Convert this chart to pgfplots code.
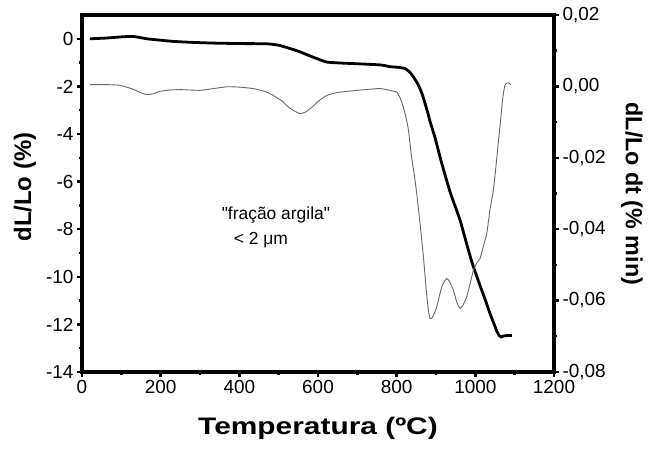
\documentclass[border=0pt]{standalone}
\usepackage{fontspec}
\setmainfont{Liberation Sans}
\newfontfamily\plainfont{Liberation Sans}[Ligatures=TeXOff]
\usepackage{pgfplots}
\pgfplotsset{compat=1.18}

% dilatometry: shrinkage and its rate
\pgfplotstableread{
T dl
20 0
60 0.03
100 0.08
130 0.1
165 0
200 -0.06
232 -0.11
280 -0.15
333 -0.18
400 -0.2
470 -0.21
500 -0.27
521 -0.37
550 -0.52
572 -0.67
600 -0.85
623 -0.98
660 -1.02
715 -1.06
760 -1.1
783 -1.17
805 -1.2
821 -1.25
832 -1.38
842 -1.59
851 -1.82
859 -2.08
866 -2.38
872 -2.71
879 -3.1
885 -3.48
898 -4.18
910 -4.95
923 -5.72
937 -6.5
949 -7.05
961 -7.61
976 -8.5
991 -9.37
1004 -10.0
1016 -10.55
1027 -11.05
1037 -11.53
1048 -12.0
1055 -12.3
1061 -12.48
1066 -12.53
1071 -12.49
1080 -12.47
1093 -12.47
}\dilat

\pgfplotstableread{
T rate
20 0.0005
60 0.0005
97 0.0003
130 -0.0008
150 -0.0018
165 -0.0023
180 -0.0021
198 -0.0014
225 -0.001
250 -0.0009
300 -0.0011
335 -0.0006
369 -0.0001
400 -0.0002
435 -0.0006
465 -0.0014
486 -0.0025
510 -0.0042
525 -0.0058
537 -0.0067
554 -0.0076
570 -0.0071
587 -0.0056
605 -0.0038
623 -0.0025
650 -0.0017
681 -0.0013
720 -0.0009
758 -0.0006
783 -0.0011
800 -0.0016
809 -0.0033
817 -0.0058
824 -0.0088
830 -0.0123
838 -0.0198
845 -0.025
851 -0.030
860 -0.039
868 -0.0477
876 -0.058
881 -0.0630
885 -0.065
890 -0.0648
896 -0.0635
902 -0.0617
915 -0.056
927 -0.0538
935 -0.0548
944 -0.057
953 -0.0605
961 -0.0622
969 -0.0612
978 -0.0589
987 -0.0552
995 -0.0515
1004 -0.0494
1012 -0.0482
1020 -0.045
1029 -0.0412
1038 -0.034
1046 -0.029
1054 -0.0207
1060 -0.014
1065 -0.0086
1070 -0.003
1075 0.0003
1080 0.0009
1084 0.001
1090 0.0005
}\rate

\pgfplotsset{
  common/.style={
    width=472bp, height=357bp, scale only axis,
    xmin=0, xmax=1200,
    tick align=outside,
    major tick length=5bp, minor tick length=3bp,
    major tick style={line width=2.4bp,black},
    minor tick style={line width=2.4bp,black},
    axis line style={line width=3.2bp,line join=miter},
    tick label style={font=\fontsize{19}{22}\selectfont},
    /pgf/number format/assume math mode=true,
  }
}

\begin{document}
\begin{tikzpicture}
  \begin{axis}[common, name=ax,
    ymin=-14, ymax=1,
    xtick={0,200,...,1200}, minor x tick num=1,
    ytick={-14,-12,...,0}, minor y tick num=1,
    xtick pos=bottom, ytick pos=left,
    /pgf/number format/1000 sep={},
    xlabel={\scalebox{1.25}[1]{\bfseries Temperatura (ºC)}},
    ylabel={\bfseries dL/Lo (\%)},
    every axis x label/.style={at={(axis description cs:0.5,-0.157)},anchor=center,
      font=\fontsize{24}{28}\selectfont},
    every axis y label/.style={at={(axis description cs:-0.121,0.518)},anchor=center,
      rotate=90,font=\fontsize{24}{28}\selectfont}]
    \addplot[black,line width=2.8bp,smooth,tension=0.3] table[x=T,y=dl] {\dilat};
    \node[font=\plainfont\fontsize{17.5}{20}\selectfont] at (axis cs:493,-7.39) {"fração argila"};
    \node[font=\fontsize{17.5}{20}\selectfont] at (axis cs:455,-8.45) {< 2 μm};
  \end{axis}
  \begin{axis}[common,
    ymin=-0.08, ymax=0.02,
    axis x line=none, axis y line*=right,
    scaled y ticks=false,
    ytick={-0.08,-0.06,-0.04,-0.02,0,0.02}, minor y tick num=1,
    /pgf/number format/fixed, /pgf/number format/fixed zerofill,
    /pgf/number format/precision=2, /pgf/number format/use comma,
    ylabel={\bfseries dL/Lo dt (\% min)},
    every axis y label/.style={at={(axis description cs:1.165,0.499)},anchor=center,
      rotate=-90,font=\fontsize{23.4}{28}\selectfont}]
    \addplot[black!60,line width=0.9bp,smooth,tension=0.3] table[x=T,y=rate] {\rate};
  \end{axis}
  \pgfresetboundingbox
  \path ([shift={(-82bp,-79bp)}]ax.south west) rectangle ([shift={(104bp,15bp)}]ax.north east);
\end{tikzpicture}
\end{document}
